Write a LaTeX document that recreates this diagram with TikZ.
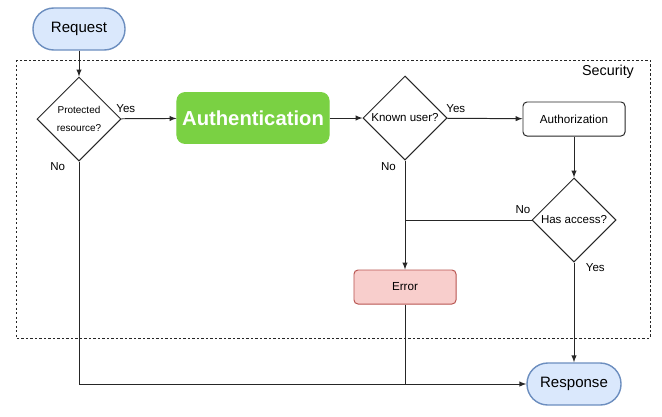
\documentclass[tikz,border=0pt]{standalone}
\usepackage{fontspec}
\setmainfont{Liberation Sans}
\usetikzlibrary{shapes}

\definecolor{termfill}{HTML}{DAE8FC}
\definecolor{termline}{HTML}{6C8EBF}
\definecolor{authgreen}{HTML}{7AD143}
\definecolor{errfill}{HTML}{F8CECC}
\definecolor{errline}{HTML}{B85450}

\begin{document}
\begin{tikzpicture}
                [
                    x=0.025cm, y=-0.025cm, line width=0.7pt,
                    terminal/.style={rectangle, rounded corners=0.52cm, draw=termline, fill=termfill, line width=1pt, minimum width=2.3cm, minimum height=1.05cm, font=\fontsize{10.7}{12}\selectfont},
                    decision/.style={diamond, draw=black!85, inner sep=0pt, minimum width=2.1cm, minimum height=2.1cm, text centered, align=center, font=\fontsize{8.2}{10}\selectfont},
                    mainstep/.style={rectangle, rounded corners=0.2cm, draw=authgreen, fill=authgreen, text=white, minimum width=3.8cm, minimum height=1.27cm, font=\fontsize{14.4}{16}\selectfont\bfseries},
                    process/.style={rectangle, rounded corners=0.1cm, draw=black!85, minimum width=2.55cm, minimum height=0.85cm, font=\fontsize{8.3}{10}\selectfont},
                    errorbox/.style={process, draw=errline, fill=errfill},
                    groupbox/.style={draw=black!85, dash pattern=on 1.6pt off 1.6pt},
                    lbl/.style={font=\fontsize{8.2}{10}\selectfont, inner sep=1pt},
                    flow/.style={draw=black!85, -latex}
                ]

                \useasboundingbox (0,0) rectangle (662,416);

                % security group
                \draw [groupbox] (16,60) rectangle (650,338);
                \node [font=\fontsize{10.2}{12}\selectfont] (seclabel) at (608,72) {Security};

                \node [terminal] (request) at (79,29) {Request};
                \node [decision, font=\fontsize{7.1}{12.8}\selectfont] (protected) at (79,119) {Protected\\resource?};
                \node [mainstep] (auth) at (253,118) {Authentication};
                \node [decision] (known) at (405,118) {Known user?};
                \node [process] (authz) at (574,119) {Authorization};
                \node [decision] (access) at (574,220) {Has access?};
                \node [errorbox] (error) at (405,287) {Error};
                \node [terminal, minimum width=2.35cm] (response) at (574,384) {Response};

                \coordinate (join) at (known |- access);

                \draw [flow] (request) -- (protected);
                \draw [flow] (protected) -- node[lbl, pos=0, anchor=south west, xshift=-0.17cm, yshift=0.1cm] {Yes} (auth);
                \draw [flow] (auth) -- (known);
                \draw [flow] (known) -- node[lbl, pos=0, anchor=south west, xshift=-0.07cm, yshift=0.1cm] {Yes} (authz);
                \draw [flow] (authz) -- (access);
                \draw [flow] (access) -- node[lbl, pos=0, anchor=north west, xshift=0.25cm, yshift=0.03cm] {Yes} (response);
                \draw [flow] (known) -- node[lbl, pos=0, anchor=north east, xshift=-0.18cm] {No} (error);
                \draw [draw=black!85] (access) -- node[lbl, pos=0, anchor=south east, xshift=0.02cm, yshift=0.1cm] {No} (join);
                \draw [flow] (protected) node[lbl, anchor=north east, xshift=-0.3cm, yshift=-1.05cm] {No} |- (response);
                \draw [draw=black!85] (error) -- (error |- response);

            \end{tikzpicture}
\end{document}
